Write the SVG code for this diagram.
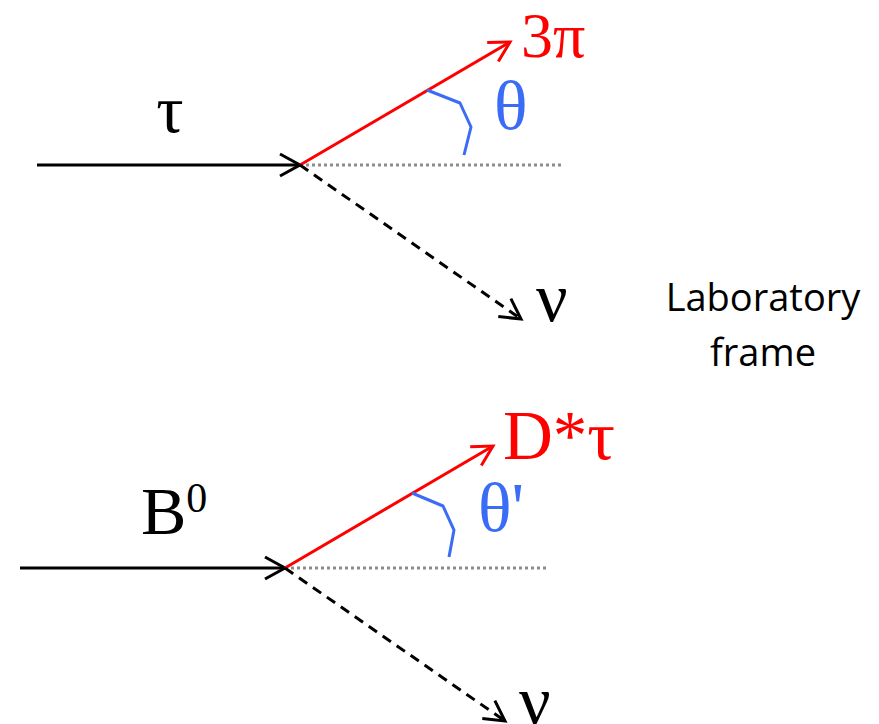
<svg xmlns="http://www.w3.org/2000/svg" width="879" height="724" viewBox="0 0 879 724">
<style>
.blk{stroke:#000;stroke-width:3;fill:none}
.red{stroke:#FF0000;stroke-width:3;fill:none}
.dash{stroke:#000;stroke-width:3;fill:none;stroke-dasharray:10 7}
.dot{stroke:#8c8c8c;stroke-width:3;fill:none;stroke-dasharray:3 3}
.ang{stroke:#3B6CF5;stroke-width:3;fill:none;stroke-linejoin:round}
.sym{font-family:"Liberation Serif","DejaVu Serif",serif}
.lab{font-family:"Open Sans","Liberation Sans",sans-serif;font-size:38px;fill:#000;text-anchor:middle}
</style>
<defs>
<marker id="ab" markerUnits="userSpaceOnUse" markerWidth="30" markerHeight="30" refX="20" refY="11" orient="auto" overflow="visible">
<path d="M0,0 L20,11 L0,22" fill="none" stroke="#000" stroke-width="3"/>
</marker>
<marker id="ar" markerUnits="userSpaceOnUse" markerWidth="30" markerHeight="30" refX="20" refY="11" orient="auto" overflow="visible">
<path d="M0,0 L20,11 L0,22" fill="none" stroke="#FF0000" stroke-width="3"/>
</marker>
</defs>
<g id="connectors">
<line class="blk" x1="37" y1="165" x2="300" y2="165" marker-end="url(#ab)"/>
<line class="dot" x1="300" y1="165" x2="564" y2="165"/>
<line class="red" x1="300" y1="165" x2="510" y2="42" marker-end="url(#ar)"/>
<line class="dash" x1="300" y1="165" x2="521" y2="319" marker-end="url(#ab)"/>
<polyline class="ang" points="427,90 460,103 471,127 464,155"/>
<line class="blk" x1="20" y1="568" x2="285" y2="568" marker-end="url(#ab)"/>
<line class="dot" x1="285" y1="568" x2="548" y2="568"/>
<line class="red" x1="285" y1="568" x2="493" y2="446" marker-end="url(#ar)"/>
<line class="dash" x1="285" y1="568" x2="505" y2="721" marker-end="url(#ab)"/>
<polyline class="ang" points="412,493 443,506 454,530 449,557"/>
</g>
<g id="tau"><text class="sym" x="170" y="132" font-size="68" text-anchor="middle">τ</text></g>
<g id="pi3"><text class="sym" x="521" y="57" font-size="64" fill="#FF0000">3π</text></g>
<g id="theta"><text class="sym" x="494" y="129" font-size="70" fill="#3B6CF5">θ</text></g>
<g id="nu1"><text class="sym" x="536" y="321" font-size="70">ν</text></g>
<g id="lab"><text class="lab" x="763" y="311">Laboratory</text><text class="lab" x="763" y="366">frame</text></g>
<g id="B0"><text class="sym" x="141" y="534" font-size="68">B<tspan font-size="42" dy="-22">0</tspan></text></g>
<g id="Dtau"><text class="sym" x="503" y="459" font-size="69" fill="#FF0000">D*τ</text></g>
<g id="thetap"><text class="sym" x="478" y="531" font-size="70" fill="#3B6CF5">θ'</text></g>
<g id="nu2"><text class="sym" x="519" y="724" font-size="70">ν</text></g>
</svg>
